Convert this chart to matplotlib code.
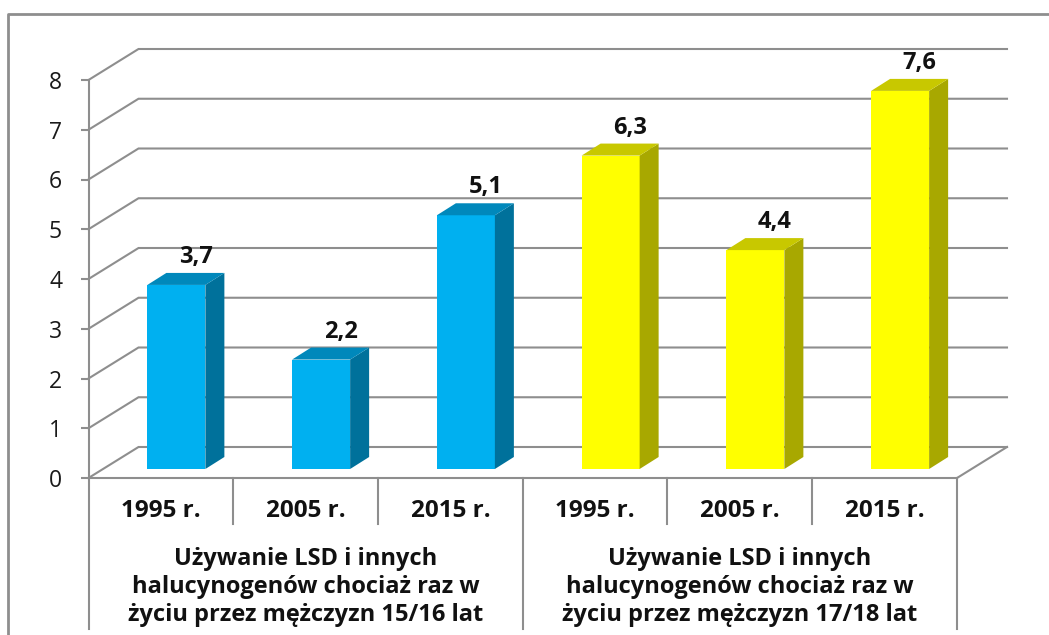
import matplotlib
matplotlib.use('Agg')
import matplotlib.pyplot as plt
from matplotlib.lines import Line2D

# values
years = ['1995 r.', '2005 r.', '2015 r.', '1995 r.', '2005 r.', '2015 r.']
values = [3.7, 2.2, 5.1, 6.3, 4.4, 7.6]
labels = ['3,7', '2,2', '5,1', '6,3', '4,4', '7,6']
groups = ['Używanie LSD i innych\nhalucynogenów chociaż raz w\nżyciu przez mężczyzn 15/16 lat',
          'Używanie LSD i innych\nhalucynogenów chociaż raz w\nżyciu przez mężczyzn 17/18 lat']

W, H = 1049, 635
plt.rcParams['font.family'] = ['Open Sans', 'DejaVu Sans']
GREY = '#8e8e8e'
LW = 1.5

fig = plt.figure(figsize=(W / 100, H / 100), dpi=100)
# plot box: front plane of the 3d chart, in pixels
x0, x1, y0, y1 = 88.5, 957, 478, 80
ax = fig.add_axes([x0 / W, 1 - y0 / H, (x1 - x0) / W, (y0 - y1) / H])
ax.set_xlim(0, 6)
ax.set_ylim(0, 8)
ux = (x1 - x0) / 6
uy = (y0 - y1) / 8
ax.patch.set_visible(False)


def px(dx):
    return dx / ux


def py(dy):
    return dy / uy


# outer frame of the picture
fig.add_artist(Line2D([8 / W, 8 / W, 1], [0, 1 - 14 / H, 1 - 14 / H], color=GREY, lw=2))

# walls and floor
back_x, back_y = px(50), py(31)
for v in range(9):
    ax.plot([0, back_x, 6 + back_x], [v, v + back_y, v + back_y], color=GREY, lw=LW,
            clip_on=False, zorder=1, solid_joinstyle='miter')
ax.plot([6, 6 + back_x], [0, back_y], color=GREY, lw=LW, clip_on=False, zorder=1)

for s in ['top', 'right']:
    ax.spines[s].set_visible(False)
for s in ['left', 'bottom']:
    ax.spines[s].set_color(GREY)
    ax.spines[s].set_linewidth(LW)

ax.set_yticks(range(9))
ax.tick_params(axis='y', length=6, width=LW, color=GREY, pad=13, labelsize=16.5, labelcolor='#1a1a1a')
ax.set_xticks([i + 0.5 for i in range(6)])
ax.set_xticklabels(years, fontweight='bold', fontsize=17.5, color='#111111')
ax.tick_params(axis='x', length=0, pad=15)

# category separators under the axis
bottom = -py(151)
for i in range(7):
    low = bottom if i in (0, 3, 6) else -py(46)
    ax.plot([i, i], [0, low], color=GREY, lw=LW, clip_on=False, zorder=1)

for i, g in enumerate(groups):
    ax.text(1.5 + 3 * i, -py(109), g, ha='center', va='center', fontweight='bold',
            fontsize=17, linespacing=1.23, color='#111111', clip_on=False)

# bars with a fake 3d look
bar_w = px(58)
off_x, off_y = px(15.5), py(9)
dep_x, dep_y = px(19), py(12)
for i, (v, lab) in enumerate(zip(values, labels)):
    if i < 3:
        front, side, top = '#00b0f0', '#00719b', '#0088bb'
    else:
        front, side, top = '#ffff00', '#a8a800', '#c8c800'
    left = i + 0.5 - bar_w / 2 + off_x
    right = left + bar_w
    ax.fill([left, right, right, left], [off_y, off_y, off_y + v, off_y + v],
            color=front, lw=0, zorder=3, clip_on=False)
    ax.fill([right, right + dep_x, right + dep_x, right],
            [off_y, off_y + dep_y, off_y + v + dep_y, off_y + v],
            color=side, lw=0, zorder=3, clip_on=False)
    ax.fill([left, left + dep_x, right + dep_x, right],
            [off_y + v, off_y + v + dep_y, off_y + v + dep_y, off_y + v],
            color=top, lw=0, zorder=3, clip_on=False)
    ax.text((left + right) / 2 + px(19.5), off_y + v + py(28), lab, ha='center', va='center',
            fontweight='bold', fontsize=17, color='#111111', zorder=4, clip_on=False)

fig.savefig('out.png', dpi=100)
